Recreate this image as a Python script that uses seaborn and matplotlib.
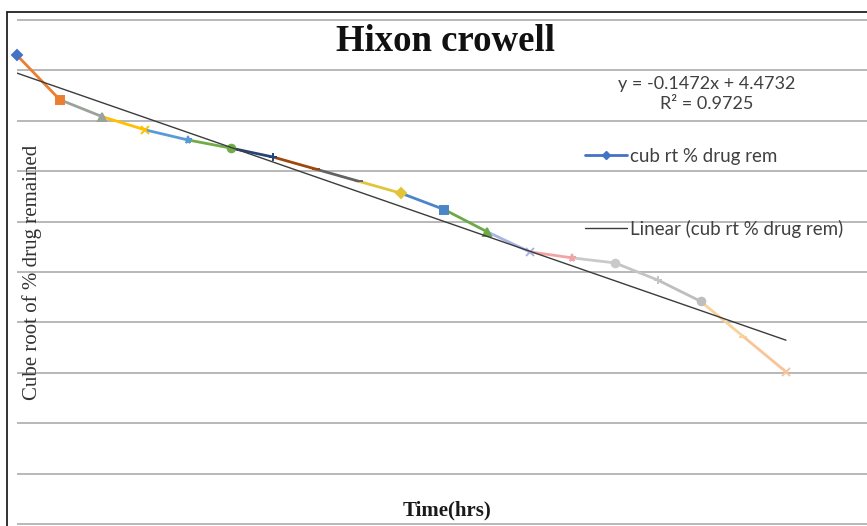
import numpy as np
import pandas as pd
import matplotlib
matplotlib.use("Agg")
import matplotlib.pyplot as plt
from matplotlib.lines import Line2D
import seaborn as sns

# ---- data ----
time_points = [0, 1, 2, 3, 4, 5, 6, 7, 8, 9, 10, 11, 12, 13, 14, 15, 16, 17, 18]
cube_root_rem = [4.65, 4.21, 4.04, 3.91, 3.81, 3.73, 3.64, 3.52, 3.40, 3.28,
                 3.12, 2.90, 2.70, 2.64, 2.59, 2.42, 2.21, 1.86, 1.51]
trend_slope = -0.1472
trend_intercept = 4.4732
r_squared = 0.9725
series_label = "cub rt % drug rem"
trend_label = "Linear (cub rt % drug rem)"
title_text = "Hixon crowell"
x_label = "Time(hrs)"
y_label = "Cube root of % drug remained"

# ---- styles ----
point_colors = ['#4472C4', '#ED7D31', '#9AA39A', '#FFC000', '#5B9BD5', '#70AD47',
                '#264478', '#9E480E', '#636363', '#E2C43A', '#4A86C8', '#6CAA48',
                '#A8B4E4', '#F2A4A4', '#C9C9C9', '#C4C4C4', '#BEBEBE', '#F8D29A', '#F8C498']
point_markers = ['D', 's', '^', 'x', '*', 'o', '+', '_', '_', 'D', 's', '^',
                 'x', '*', 'o', '+', 'o', '_', 'x']

sns.set_theme(style="white")
plt.rcParams['font.family'] = ['Lato', 'DejaVu Sans']

fig = plt.figure(figsize=(8.67, 5.26), dpi=100)
ax = fig.add_axes([17 / 867, 0, 850 / 867, 511 / 526])

# multicoloured segments (Excel "vary colours by point")
rows = []
for i in range(1, len(time_points)):
    seg = f"s{i}"
    rows.append((seg, time_points[i - 1], cube_root_rem[i - 1]))
    rows.append((seg, time_points[i], cube_root_rem[i]))
seg_df = pd.DataFrame(rows, columns=["seg", "t", "v"])
palette = {f"s{i}": point_colors[i] for i in range(1, len(time_points))}
sns.lineplot(data=seg_df, x="t", y="v", hue="seg", palette=palette, estimator=None,
             sort=False, legend=False, lw=2.0, ax=ax)
for ln in ax.lines:
    ln.set_clip_on(False)
    ln.set_zorder(3)
    ln.set_solid_capstyle('round')

for t, v, c, m in zip(time_points, cube_root_rem, point_colors, point_markers):
    ax.plot([t], [v], ls='none', marker=m, color=c, ms=5.5, mew=1.4,
            clip_on=False, zorder=4)

# linear trendline
trend_x = np.array([time_points[0], time_points[-1]])
trend_y = trend_slope * trend_x + trend_intercept
n_before = len(ax.lines)
sns.lineplot(x=trend_x, y=trend_y, color='#3c3c3c', lw=1.0, ax=ax)
for ln in ax.lines[n_before:]:
    ln.set_zorder(5)

# axes styling
ax.set_xlim(0, 850 / 42.72)
ax.set_ylim(-2 / 100.8, 509 / 100.8)
ax.set_yticks(np.arange(0, 5.01, 0.5))
ax.set_xticks([])
ax.tick_params(length=0, labelleft=False, labelbottom=False)
ax.grid(axis='y', color='#b8b8b8', lw=1.4)
ax.grid(axis='x', visible=False)
for s in ax.spines.values():
    s.set_visible(False)

ax.set_ylabel(y_label, family='Liberation Serif', fontsize=15, color='#333333',
              va='center', ha='center')
ax.yaxis.set_label_coords((32 - 17) / 850, (526 - 272) / 511)
ax.set_xlabel(x_label, family='Liberation Serif', fontsize=15, weight='bold',
              color='#1a1a1a', va='center', ha='center')
ax.xaxis.set_label_coords((447 - 17) / 850, (526 - 510) / 511)

fig.text(445 / 867, 1 - 41 / 526, title_text, family='Liberation Serif',
         weight='bold', fontsize=26.5, ha='center', va='center', color='#111111')

fig.text(707 / 867, 1 - 84 / 526, f"y = {trend_slope}x + {trend_intercept}",
         fontsize=13, ha='center', va='center', color='#404040')
fig.text(707 / 867, 1 - 104 / 526, f"R² = {r_squared}",
         fontsize=13, ha='center', va='center', color='#404040')

handles = [Line2D([], [], color='#4472C4', lw=2.0, marker='D', ms=4, label=series_label),
           Line2D([], [], color='#3c3c3c', lw=1.0, label=trend_label)]
leg = ax.legend(handles=handles, loc='upper left',
                bbox_to_anchor=(585 / 867, 1 - 148 / 526), bbox_transform=fig.transFigure,
                frameon=False, borderpad=0, borderaxespad=0, handlelength=2.25,
                handletextpad=0.17, labelspacing=2.92, fontsize=13.5, labelcolor='#404040')

# chart-area border (left and top edges visible)
fig.add_artist(Line2D([7 / 867, 7 / 867], [0, 1 - 12 / 526], color='#222222', lw=1.3,
                      transform=fig.transFigure))
fig.add_artist(Line2D([7 / 867, 1], [1 - 12 / 526, 1 - 12 / 526], color='#222222', lw=1.3,
                      transform=fig.transFigure))

fig.savefig("out.png", dpi=100)
